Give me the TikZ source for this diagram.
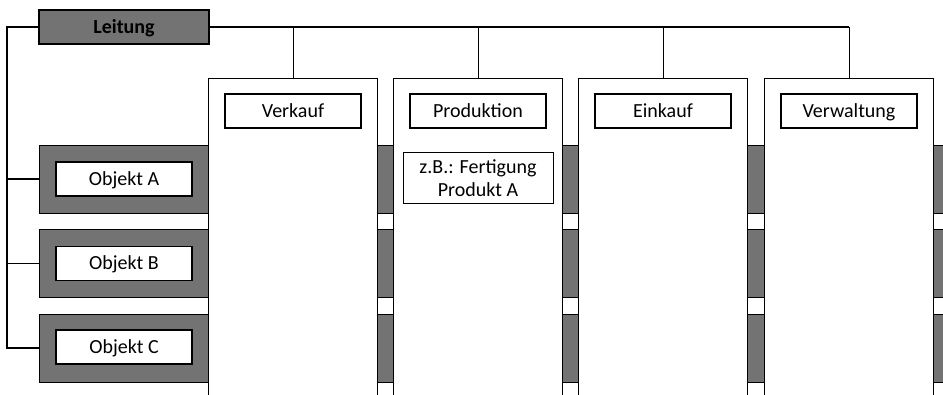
\documentclass[tikz,border=0pt]{standalone}
\usepackage{xcolor}
\usepackage{fontspec}
\setmainfont{Carlito}
\usepackage{tikz}
\usetikzlibrary{positioning}
\definecolor{bargray}{RGB}{115,115,115}

\begin{document}
\begin{tikzpicture}[x=1pt, y=-1pt,
    every node/.style={font=\fontsize{20}{23}\selectfont, inner sep=0pt},
    leitbox/.style={draw, line width=1.6pt, fill=bargray, minimum width=170pt, minimum height=34pt, text height=12.8pt, text depth=0pt, font=\fontsize{20}{23}\selectfont\bfseries},
    bar/.style={draw, line width=0.9pt, fill=bargray, minimum width=921pt, minimum height=68pt},
    column/.style={draw, line width=1pt, fill=white, minimum width=169pt, minimum height=330pt, anchor=north},
    headbox/.style={draw, line width=1.8pt, fill=white, minimum width=136pt, minimum height=34pt, text height=12.8pt, text depth=0pt},
    notebox/.style={draw, line width=1pt, fill=white, minimum width=150pt, minimum height=51pt, align=center},
    tree/.style={line width=1.5pt},
    drop/.style={line width=1pt}]
    \useasboundingbox (0,0) rectangle (943,395);
    \clip (0,0) rectangle (943,395);

    % Leitung
    \node[leitbox] (leit) at (124,27) {Leitung};

    % Objekt rows (behind the columns)
    \node[bar] (barA) at (499.5,179) {};
    \node[bar] (barB) at (499.5,263.5) {};
    \node[bar] (barC) at (499.5,348) {};
    \node[headbox] (objA) at (124,179) {Objekt A};
    \node[headbox] (objB) at (124,263.5) {Objekt B};
    \node[headbox] (objC) at (124,347) {Objekt C};

    % Columns
    \node[column] (verk) at (293,78) {};
    \node[column] (prod) at (478,78) {};
    \node[column] (eink) at (663,78) {};
    \node[column] (verw) at (849,78) {};

    % Headers
    \node[headbox] (verkhead) at (293,111) {Verkauf};
    \node[headbox] (prodhead) at (478,111) {Produktion};
    \node[headbox] (einkhead) at (663,111) {Einkauf};
    \node[headbox] (verwhead) at (849,111) {Verwaltung};
    \node[notebox] (note) at (478,178.5) {z.B.: Fertigung\\Produkt A};

    % Tree to the objects
    \coordinate (trunk) at (7,27);
    \draw[tree] (leit.west) -- (trunk) |- (barC.west);
    \draw[tree] (trunk |- barA.west) -- (barA.west);
    \draw[tree] (trunk |- barB.west) -- (barB.west);

    % Tree to the columns
    \draw[tree] (leit.east) -- (leit.east -| verw.north);
    \draw[drop] (verk.north) -- (verk.north |- leit.east);
    \draw[drop] (prod.north) -- (prod.north |- leit.east);
    \draw[drop] (eink.north) -- (eink.north |- leit.east);
    \draw[drop] (verw.north) -- (verw.north |- leit.east);
\end{tikzpicture}
\end{document}
